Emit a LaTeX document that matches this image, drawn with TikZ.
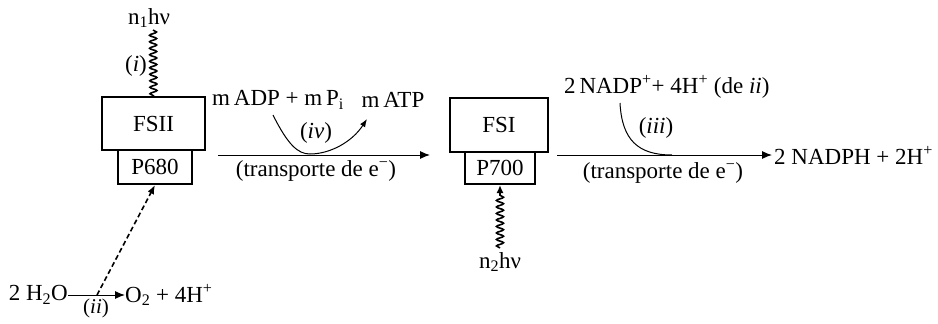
\documentclass[tikz,border=0pt]{standalone}
\usepackage{fontspec}
\setmainfont{Liberation Serif}
\usetikzlibrary{arrows.meta,decorations.pathmorphing}
\tikzset{
  x=1pt,y=-1pt,
  every node/.style={font=\fontsize{23}{27}\selectfont, inner sep=0pt},
  psbox/.style={draw, line width=2pt, rectangle},
  tip/.style={-{Latex[length=10pt,width=8pt]}},
  flow/.style={line width=1pt, tip},
  wavy/.style={line width=1.6pt, decorate, decoration={snake, segment length=6.5pt, amplitude=3.5pt}},
}
\begin{document}
\begin{tikzpicture}
\useasboundingbox (0,0) rectangle (938,324);
% photosystem II
\node[psbox, minimum width=103pt, minimum height=53pt] (FSII) at (153.5,123.5) {FSII};
\node[psbox, minimum width=74pt, minimum height=34pt] (P680) at (155,167) {P680};
\node (n1) at (149,18) {n\textsubscript{1}hν};
\node[anchor=east] (i) at (147,66) {(\textit{i})};
\coordinate (w1) at (153,30);
\draw[wavy] (w1) -- (FSII.north);
% photosystem I
\node[psbox, minimum width=98pt, minimum height=54pt] (FSI) at (499,125) {FSI};
\node[psbox, minimum width=70pt, minimum height=32pt] (P700) at (500,168) {P700};
\node (n2) at (500,262) {n\textsubscript{2}hν};
\coordinate (w2) at (500,248);
\draw[line width=1.6pt, decorate, decoration={snake, segment length=6.5pt, amplitude=3.5pt, post length=7pt}, -{Latex[length=8pt,width=7pt]}] (w2) -- (P700.south);
% transport 1
\coordinate (a1s) at (218,155);
\coordinate (a1e) at (430,155);
\draw[flow] (a1s) -- (a1e);
\node (t1) at (316,171) {(transporte de e\textsuperscript{−})};
\node[anchor=west] (adp) at (212,100) {m\,ADP + m\,P\textsubscript{i}};
\node (atp) at (393,100) {m\,ATP};
\node (iv) at (316,133) {(\textit{iv})};
\coordinate (c1s) at (273,115);
\coordinate (c1m) at (310,154);
\coordinate (c1e) at (367,119);
\draw[line width=1pt, -{Latex[length=8pt,width=6pt]}] (c1s) .. controls (288,145) and (298,154) .. (c1m) .. controls (330,154) and (352,142) .. (c1e);
% transport 2
\coordinate (a2s) at (557,155);
\coordinate (a2e) at (772,155);
\draw[flow] (a2s) -- (a2e);
\node (t2) at (663,173) {(transporte de e\textsuperscript{−})};
\node[anchor=west] (nadp) at (564,87) {2\,NADP\textsuperscript{+}+ 4H\textsuperscript{+} (de \textit{ii})};
\node (iii) at (656,128) {(\textit{iii})};
\coordinate (c2s) at (620,103);
\coordinate (c2m) at (672,155);
\draw[line width=1pt] (c2s) .. controls (622,140) and (638,155) .. (c2m);
\node[anchor=west] (nadph) at (774,155) {2 NADPH + 2H\textsuperscript{+}};
% water splitting
\node[anchor=east] (h2o) at (68,295) {2 H\textsubscript{2}O};
\node[anchor=west] (o2) at (125,295) {O\textsubscript{2} + 4H\textsuperscript{+}};
\draw[flow] (h2o.east) -- (o2.west);
\node[anchor=north, font=\fontsize{21}{24}\selectfont] (ii) at (96,299) {(\textit{ii})};
\coordinate (d0) at (97,295);
\draw[line width=1.6pt, dash pattern=on 5pt off 3pt, -{Latex[length=9pt,width=7pt]}] (d0) -- (P680.south);
\end{tikzpicture}
\end{document}
